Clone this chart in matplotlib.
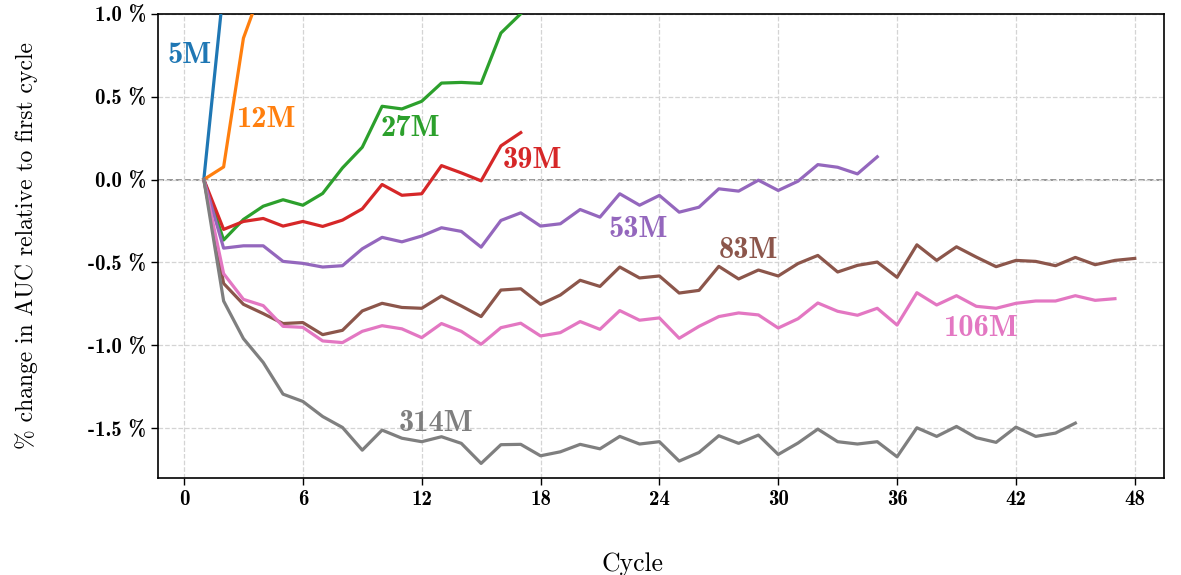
import numpy as np
import matplotlib
matplotlib.use("Agg")
import matplotlib.pyplot as plt

# % change in AUC vs. cycle, one series per model size (cycle 1 = 0)
labels = ["5M", "12M", "27M", "39M", "53M", "83M", "106M", "314M"]

auc_5m = [0.0, 1.16]
auc_12m = [0.0, 0.076, 0.853, 1.18]
auc_27m = [0.0, -0.365, -0.241, -0.161, -0.122, -0.155, -0.084, 0.070, 0.195,
           0.442, 0.426, 0.472, 0.582, 0.586, 0.580, 0.884, 1.0]
auc_39m = [0.0, -0.301, -0.253, -0.235, -0.281, -0.253, -0.283, -0.245, -0.177,
           -0.030, -0.095, -0.086, 0.084, 0.040, -0.008, 0.203, 0.283]
auc_53m = [0.0, -0.414, -0.400, -0.400, -0.494, -0.506, -0.528, -0.520, -0.418,
           -0.349, -0.376, -0.341, -0.291, -0.313, -0.408, -0.247, -0.201, -0.281,
           -0.267, -0.181, -0.227, -0.086, -0.155, -0.096, -0.197, -0.167, -0.056,
           -0.070, -0.004, -0.066, -0.010, 0.090, 0.074, 0.034, 0.137]
auc_83m = [0.0, -0.627, -0.753, -0.809, -0.869, -0.863, -0.936, -0.910, -0.793,
           -0.747, -0.772, -0.777, -0.703, -0.763, -0.827, -0.667, -0.659, -0.753,
           -0.697, -0.608, -0.645, -0.528, -0.594, -0.582, -0.685, -0.669, -0.524,
           -0.600, -0.546, -0.582, -0.507, -0.458, -0.558, -0.518, -0.498, -0.590,
           -0.394, -0.488, -0.406, -0.468, -0.526, -0.488, -0.494, -0.520, -0.470,
           -0.514, -0.488, -0.476]
auc_106m = [0.0, -0.568, -0.723, -0.761, -0.886, -0.892, -0.974, -0.984, -0.916,
            -0.882, -0.901, -0.954, -0.869, -0.916, -0.994, -0.894, -0.867, -0.944,
            -0.924, -0.857, -0.904, -0.791, -0.849, -0.835, -0.958, -0.886, -0.827,
            -0.805, -0.817, -0.896, -0.840, -0.745, -0.795, -0.819, -0.777, -0.878,
            -0.683, -0.757, -0.701, -0.765, -0.777, -0.747, -0.733, -0.733, -0.701,
            -0.729, -0.719]
auc_314m = [0.0, -0.733, -0.960, -1.104, -1.295, -1.339, -1.430, -1.496, -1.633,
            -1.512, -1.561, -1.582, -1.552, -1.592, -1.713, -1.600, -1.598, -1.667,
            -1.643, -1.598, -1.625, -1.550, -1.596, -1.582, -1.699, -1.647, -1.546,
            -1.592, -1.542, -1.659, -1.590, -1.506, -1.582, -1.596, -1.582, -1.673,
            -1.498, -1.550, -1.490, -1.558, -1.586, -1.494, -1.550, -1.530, -1.470]

series = [auc_5m, auc_12m, auc_27m, auc_39m, auc_53m, auc_83m, auc_106m, auc_314m]

# where each size label sits (cycle, % change)
label_x = [0.3, 4.15, 11.45, 17.6, 22.95, 28.5, 40.25, 12.75]
label_y = [0.75, 0.36, 0.31, 0.115, -0.30, -0.43, -0.90, -1.47]

yticks = [1.0, 0.5, 0.0, -0.5, -1.0, -1.5]
ytick_labels = ["1.0 %", "0.5 %", "0.0 %", "-0.5 %", "-1.0 %", "-1.5 %"]
xticks = [0, 6, 12, 18, 24, 30, 36, 42, 48]

colors = plt.rcParams["axes.prop_cycle"].by_key()["color"]

fig = plt.figure(figsize=(11.81, 5.75), dpi=100)
ax = fig.add_axes([0.134, 0.169, 0.852, 0.807])

ax.axhline(0, color="gray", ls="--", lw=1.2, zorder=1)
for vals, name, lx, ly, c in zip(series, labels, label_x, label_y, colors):
    cyc = np.arange(1, len(vals) + 1)
    ax.plot(cyc, vals, color=c, lw=2.3, zorder=3)
    ax.text(lx, ly, name, color=c, fontsize=22, family="cmb10",
            ha="center", va="center", zorder=4)

ax.set_xlim(-1.3, 49.5)
ax.set_ylim(-1.8, 1.0)
ax.set_yticks(yticks)
ax.set_yticklabels(ytick_labels)
ax.set_xticks(xticks)
ax.set_xticklabels([str(t) for t in xticks])
for lab in ax.get_xticklabels() + ax.get_yticklabels():
    lab.set_family("cmb10")
    lab.set_fontsize(15)
ax.tick_params(length=5, width=1, pad=4)
ax.grid(True, color="#d4d4d4", ls="--", lw=0.9, zorder=0)
for sp in ax.spines.values():
    sp.set_linewidth(1.2)

ax.set_xlabel("Cycle", family="cmr10", fontsize=18.5)
ax.xaxis.set_label_coords(0.471, -0.16)
ax.set_ylabel("% change in AUC relative to first cycle", family="cmr10",
              fontsize=17, labelpad=36)

fig.savefig("out.png", dpi=100)
